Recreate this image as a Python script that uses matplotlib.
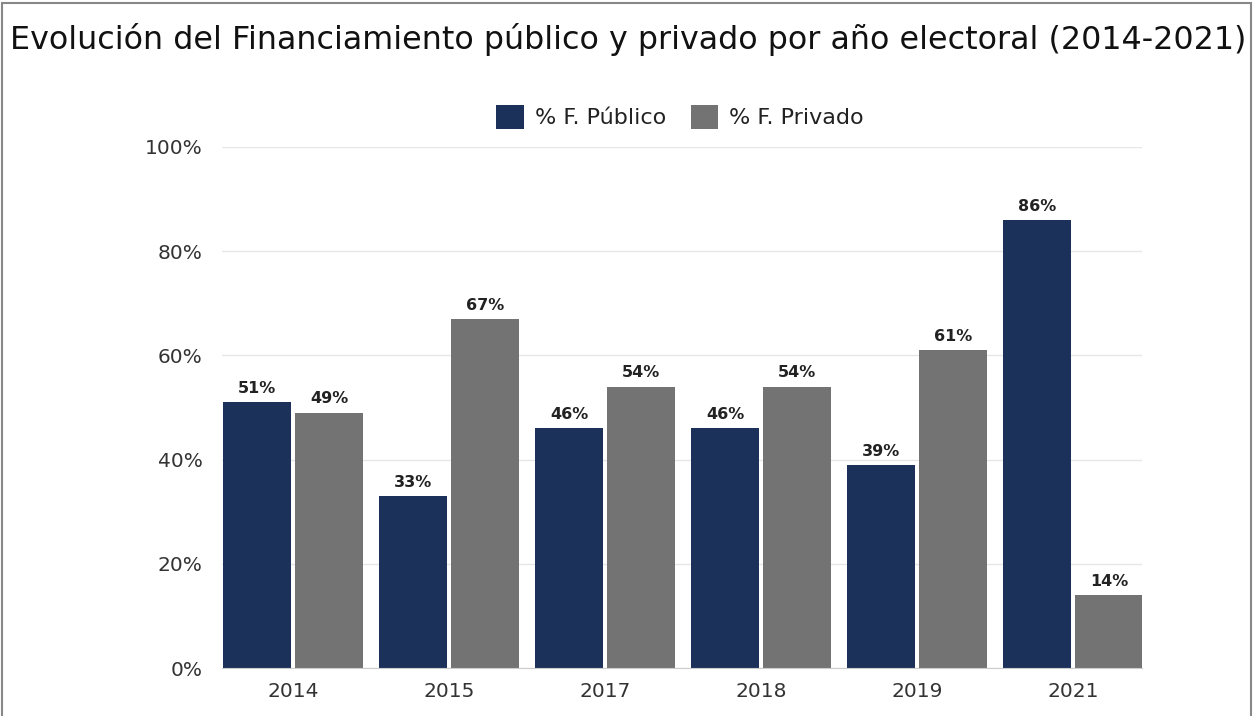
import matplotlib
matplotlib.use("Agg")
import matplotlib.pyplot as plt
from matplotlib.patches import Rectangle
import numpy as np

# datos
anios = ["2014", "2015", "2017", "2018", "2019", "2021"]
publico = [51, 33, 46, 46, 39, 86]
privado = [49, 67, 54, 54, 61, 14]
ticks_y = [0, 20, 40, 60, 80, 100]

c_pub = "#1b3159"
c_priv = "#737373"

plt.rcParams['font.family'] = ['DejaVu Sans']

fig = plt.figure(figsize=(12.55, 7.16), dpi=100)
ax = fig.add_axes([222/1255, 1 - 668/716, (1142-222)/1255, (668-147)/716])

x = np.arange(len(anios))
w = 0.436
off = 0.231
b1 = ax.bar(x - off, publico, w, color=c_pub, label="% F. Público")
b2 = ax.bar(x + off, privado, w, color=c_priv, label="% F. Privado")

for barras, vals in [(b1, publico), (b2, privado)]:
    for b, v in zip(barras, vals):
        ax.text(b.get_x() + b.get_width()/2, v + 1.2, f"{v}%", ha="center", va="bottom",
                fontsize=11.5, fontweight="bold", color="#222222")

ax.set_xlim(-0.455, 5.44)
ax.set_ylim(0, 100)
ax.set_xticks(x)
ax.set_xticklabels(anios, fontsize=14.5, color="#333333")
ax.set_yticks(ticks_y)
ax.set_yticklabels([f"{t}%" for t in ticks_y], fontsize=14.5, color="#333333")
ax.tick_params(axis="both", length=0)
ax.tick_params(axis="x", pad=10)
ax.tick_params(axis="y", pad=14)
ax.grid(axis="y", color="#e6e6e6", linewidth=1)
ax.set_axisbelow(True)
for s in ["top", "right", "left"]:
    ax.spines[s].set_visible(False)
ax.spines["bottom"].set_color("#cccccc")

fig.legend(handles=[b1, b2], loc="center", bbox_to_anchor=(680/1255, 1 - 117/716), ncol=2,
           frameon=False, fontsize=16, handlelength=1.25, handleheight=1.25,
           handletextpad=0.5, columnspacing=1.1, labelcolor="#222222")

titulo = fig.text(10/1255, 1 - 40/716,
                  "Evolución del Financiamiento público y privado por año electoral (2014-2021)",
                  fontsize=22, va="center", ha="left", color="#111111")
# ajustar tamaño del titulo al ancho de la imagen
r = fig.canvas.get_renderer()
ancho = titulo.get_window_extent(r).width
titulo.set_fontsize(22 * 1235 / ancho)

fig.patches.append(Rectangle((2/1255, -0.01), 1249/1255, 1 - 3/716 + 0.01, transform=fig.transFigure,
                             fill=False, edgecolor="#888888", linewidth=1.5))

fig.savefig("out.png", dpi=100)
